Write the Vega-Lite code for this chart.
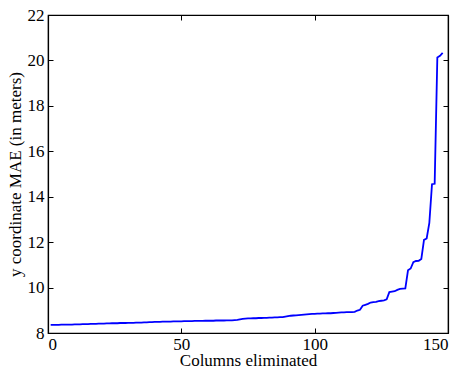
{
  "$schema": "https://vega.github.io/schema/vega-lite/v6.json",
  "width": 400,
  "height": 318,
  "autosize": {"type": "none"},
  "padding": {"left": 48, "top": 15, "right": 13, "bottom": 38},
  "background": "white",
  "config": {
    "font": "Liberation Serif",
    "view": {"stroke": "black", "strokeWidth": 1.2},
    "style": {"guide-label": {"font": "Liberation Serif", "fontSize": 17, "fill": "black"}, "guide-title": {"font": "Liberation Serif", "fontSize": 17, "fill": "black", "fontWeight": "normal"}},
    "axis": {
      "grid": false,
      "domainColor": "black",
      "domainWidth": 1.2,
      "tickColor": "black",
      "tickWidth": 1,
      "tickSize": -5,
      "labelFont": "Liberation Serif",
      "labelFontSize": 17,
      "labelColor": "black",
      "titleFont": "Liberation Serif",
      "titleFontSize": 17,
      "titleFontWeight": "normal",
      "titleColor": "black"
    }
  },
  "data": {
    "values": [
      {"columns": 1, "mae": 8.36}, {"columns": 2, "mae": 8.36}, {"columns": 3, "mae": 8.36}, {"columns": 4, "mae": 8.36}, {"columns": 5, "mae": 8.37},
      {"columns": 6, "mae": 8.37}, {"columns": 7, "mae": 8.37}, {"columns": 8, "mae": 8.37}, {"columns": 9, "mae": 8.37}, {"columns": 10, "mae": 8.38},
      {"columns": 11, "mae": 8.38}, {"columns": 12, "mae": 8.38}, {"columns": 13, "mae": 8.39}, {"columns": 14, "mae": 8.39}, {"columns": 15, "mae": 8.39},
      {"columns": 16, "mae": 8.40}, {"columns": 17, "mae": 8.40}, {"columns": 18, "mae": 8.40}, {"columns": 19, "mae": 8.41}, {"columns": 20, "mae": 8.41},
      {"columns": 21, "mae": 8.41}, {"columns": 22, "mae": 8.42}, {"columns": 23, "mae": 8.42}, {"columns": 24, "mae": 8.43}, {"columns": 25, "mae": 8.43},
      {"columns": 26, "mae": 8.43}, {"columns": 27, "mae": 8.44}, {"columns": 28, "mae": 8.44}, {"columns": 29, "mae": 8.44}, {"columns": 30, "mae": 8.45},
      {"columns": 31, "mae": 8.45}, {"columns": 32, "mae": 8.45}, {"columns": 33, "mae": 8.46}, {"columns": 34, "mae": 8.46}, {"columns": 35, "mae": 8.46},
      {"columns": 36, "mae": 8.47}, {"columns": 37, "mae": 8.47}, {"columns": 38, "mae": 8.48}, {"columns": 39, "mae": 8.48}, {"columns": 40, "mae": 8.49},
      {"columns": 41, "mae": 8.49}, {"columns": 42, "mae": 8.49}, {"columns": 43, "mae": 8.50}, {"columns": 44, "mae": 8.50}, {"columns": 45, "mae": 8.50},
      {"columns": 46, "mae": 8.50}, {"columns": 47, "mae": 8.51}, {"columns": 48, "mae": 8.51}, {"columns": 49, "mae": 8.51}, {"columns": 50, "mae": 8.51},
      {"columns": 51, "mae": 8.52}, {"columns": 52, "mae": 8.52}, {"columns": 53, "mae": 8.52}, {"columns": 54, "mae": 8.52}, {"columns": 55, "mae": 8.53},
      {"columns": 56, "mae": 8.53}, {"columns": 57, "mae": 8.53}, {"columns": 58, "mae": 8.53}, {"columns": 59, "mae": 8.54}, {"columns": 60, "mae": 8.54},
      {"columns": 61, "mae": 8.54}, {"columns": 62, "mae": 8.54}, {"columns": 63, "mae": 8.55}, {"columns": 64, "mae": 8.55}, {"columns": 65, "mae": 8.55},
      {"columns": 66, "mae": 8.55}, {"columns": 67, "mae": 8.56}, {"columns": 68, "mae": 8.56}, {"columns": 69, "mae": 8.56}, {"columns": 70, "mae": 8.57},
      {"columns": 71, "mae": 8.58}, {"columns": 72, "mae": 8.60}, {"columns": 73, "mae": 8.62}, {"columns": 74, "mae": 8.63}, {"columns": 75, "mae": 8.64},
      {"columns": 76, "mae": 8.64}, {"columns": 77, "mae": 8.65}, {"columns": 78, "mae": 8.65}, {"columns": 79, "mae": 8.66}, {"columns": 80, "mae": 8.66},
      {"columns": 81, "mae": 8.67}, {"columns": 82, "mae": 8.67}, {"columns": 83, "mae": 8.68}, {"columns": 84, "mae": 8.68}, {"columns": 85, "mae": 8.69},
      {"columns": 86, "mae": 8.69}, {"columns": 87, "mae": 8.70}, {"columns": 88, "mae": 8.70}, {"columns": 89, "mae": 8.72}, {"columns": 90, "mae": 8.74},
      {"columns": 91, "mae": 8.76}, {"columns": 92, "mae": 8.77}, {"columns": 93, "mae": 8.78}, {"columns": 94, "mae": 8.79}, {"columns": 95, "mae": 8.80},
      {"columns": 96, "mae": 8.81}, {"columns": 97, "mae": 8.82}, {"columns": 98, "mae": 8.83}, {"columns": 99, "mae": 8.84}, {"columns": 100, "mae": 8.84},
      {"columns": 101, "mae": 8.85}, {"columns": 102, "mae": 8.85}, {"columns": 103, "mae": 8.86}, {"columns": 104, "mae": 8.86}, {"columns": 105, "mae": 8.87},
      {"columns": 106, "mae": 8.87}, {"columns": 107, "mae": 8.88}, {"columns": 108, "mae": 8.89}, {"columns": 109, "mae": 8.90}, {"columns": 110, "mae": 8.91},
      {"columns": 111, "mae": 8.91}, {"columns": 112, "mae": 8.92}, {"columns": 113, "mae": 8.92}, {"columns": 114, "mae": 8.92}, {"columns": 115, "mae": 8.93},
      {"columns": 116, "mae": 8.99}, {"columns": 117, "mae": 9.02}, {"columns": 118, "mae": 9.20}, {"columns": 119, "mae": 9.24}, {"columns": 120, "mae": 9.28},
      {"columns": 121, "mae": 9.34}, {"columns": 122, "mae": 9.36}, {"columns": 123, "mae": 9.37}, {"columns": 124, "mae": 9.40}, {"columns": 125, "mae": 9.42},
      {"columns": 126, "mae": 9.44}, {"columns": 127, "mae": 9.48}, {"columns": 128, "mae": 9.80}, {"columns": 129, "mae": 9.82}, {"columns": 130, "mae": 9.84},
      {"columns": 131, "mae": 9.90}, {"columns": 132, "mae": 9.94}, {"columns": 133, "mae": 9.95}, {"columns": 134, "mae": 9.96}, {"columns": 135, "mae": 10.76},
      {"columns": 136, "mae": 10.84}, {"columns": 137, "mae": 11.12}, {"columns": 138, "mae": 11.17}, {"columns": 139, "mae": 11.18}, {"columns": 140, "mae": 11.26},
      {"columns": 141, "mae": 12.10}, {"columns": 142, "mae": 12.16}, {"columns": 143, "mae": 12.85}, {"columns": 144, "mae": 14.55}, {"columns": 145, "mae": 14.57},
      {"columns": 146, "mae": 20.13}, {"columns": 147, "mae": 20.20}, {"columns": 148, "mae": 20.33}
    ]
  },
  "layer": [
    {
      "mark": {"type": "line", "color": "#0000ff", "strokeWidth": 1.8},
      "encoding": {
        "x": {
          "field": "columns", "type": "quantitative",
          "scale": {"domain": [0, 150], "nice": false},
          "axis": {"orient": "bottom", "values": [0, 50, 100, 150], "title": "Columns eliminated", "labelFont": "Liberation Serif", "titleFont": "Liberation Serif", "labelPadding": 8, "titlePadding": 0}
        },
        "y": {
          "field": "mae", "type": "quantitative",
          "scale": {"domain": [8, 22], "nice": false, "zero": false},
          "axis": {"orient": "left", "values": [8, 10, 12, 14, 16, 18, 20, 22], "title": "y coordinate MAE (in meters)", "labelFont": "Liberation Serif", "titleFont": "Liberation Serif", "labelPadding": 9, "titlePadding": 3}
        }
      }
    },
    {
      "mark": {"type": "line", "opacity": 0},
      "encoding": {
        "x": {
          "field": "columns", "type": "quantitative",
          "scale": {"domain": [0, 150], "nice": false},
          "axis": {"orient": "top", "values": [0, 50, 100, 150], "labels": false, "title": null}
        },
        "y": {
          "field": "mae", "type": "quantitative",
          "scale": {"domain": [8, 22], "nice": false, "zero": false},
          "axis": {"orient": "right", "values": [8, 10, 12, 14, 16, 18, 20, 22], "labels": false, "title": null}
        }
      }
    }
  ],
  "resolve": {"axis": {"x": "independent", "y": "independent"}}
}
